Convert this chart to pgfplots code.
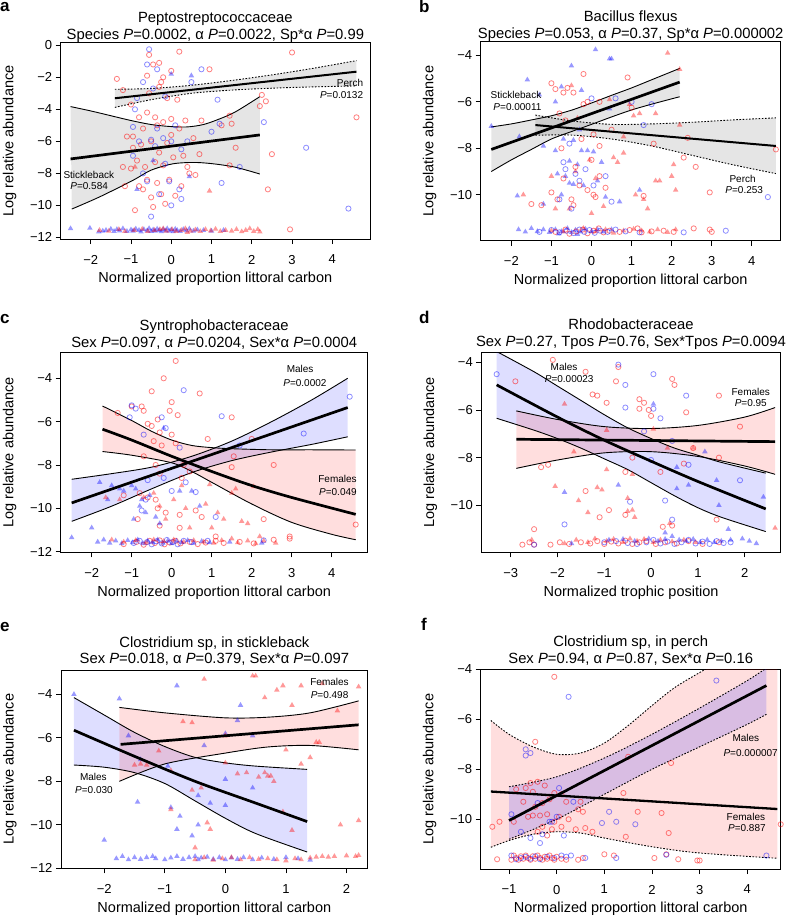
\documentclass[border=0pt]{standalone}
\usepackage{fontspec}
\setmainfont{Liberation Sans}
\usepackage{pgfplots}
\pgfplotsset{compat=1.18}
\usepgfplotslibrary{fillbetween}

\definecolor{pr}{RGB}{255,0,0}
\definecolor{pb}{RGB}{0,0,255}

\tikzset{note/.style={font=\fontsize{10}{12}\selectfont, inner sep=0pt}}

\pgfplotsset{
  panel/.style={
    scale only axis, set layers, clip mode=individual,
    tick align=outside, tick pos=left,
    axis line style={line width=0.8pt},
    major tick length=5pt,
    every tick/.style={line width=0.8pt, black},
    tick label style={font=\fontsize{13}{15}\selectfont},
    xticklabel style={yshift=-7.5pt},
    label style={font=\fontsize{14.5}{17}\selectfont},
    title style={font=\fontsize{14.8}{16.7}\selectfont, align=center,
      at={(0.5,1)}, anchor=south, inner sep=0pt},
    xlabel style={at={([yshift=-40pt]axis description cs:0.5,0)}, anchor=center},
    ylabel style={at={([xshift=-51pt]axis description cs:0,0.5)}, anchor=center},
    ylabel={Log relative abundance},
    xlabel={Normalized proportion littoral carbon},
  },
  rc/.style={only marks, mark=o, mark size=2.6pt,
    mark options={draw=pr, draw opacity=0.5, line width=0.8pt}},
  bc/.style={only marks, mark=o, mark size=2.6pt,
    mark options={draw=pb, draw opacity=0.45, line width=0.8pt}},
  rt/.style={only marks, mark=triangle*, mark size=3.2pt,
    mark options={fill=pr, draw=pr, draw opacity=0, fill opacity=0.4}},
  bt/.style={only marks, mark=triangle*, mark size=3.2pt,
    mark options={fill=pb, draw=pb, draw opacity=0, fill opacity=0.4}},
  fit/.style={black, line width=2.7pt, no marks},
  ci/.style={black, line width=0.9pt, no marks, smooth},
  cid/.style={black, line width=0.9pt, no marks, smooth, dash pattern=on 1.6pt off 1.6pt},
}

\begin{document}
\begin{tikzpicture}

% ---------------- a ----------------
\node[anchor=base west, font=\bfseries\fontsize{17}{17}\selectfont, inner sep=0pt] at (0pt,-11pt) {a};
\begin{axis}[panel, at={(60.7pt,-42.7pt)}, anchor=north west,
  width=309.3pt, height=196.3pt,
  xmin=-2.745, xmax=4.936, ymin=-12.1, ymax=0.16,
  xtick={-2,...,4}, xticklabels={−2,−1,0,1,2,3,4},
  ytick={-12,-10,...,0}, yticklabels={−12,−10,−8,−6,−4,−2,0},
  title style={yshift=-6pt},
  title={Peptostreptococcaceae\\Species \textit{P}=0.0002, α \textit{P}=0.0022, Sp*α \textit{P}=0.99}]
\addplot[ci, name path=su] coordinates {(-2.5,-3.83) (-2,-4.1) (-1.5,-4.4) (-1,-4.7) (-0.5,-4.95) (0,-5.08) (0.4,-5.1) (0.8,-4.95) (1.2,-4.6) (1.6,-4.15) (2.2,-3.21)};
\addplot[ci, name path=sl] coordinates {(-2.47,-10.23) (-1.77,-9.46) (-0.94,-8.42) (-0.5,-7.8) (0.05,-7.4) (0.6,-7.32) (1.1,-7.42) (1.6,-7.62) (2.2,-8.04)};
\addplot[fill=black, fill opacity=0.1, draw=none] fill between[of=su and sl];
\addplot[cid, name path=pu] coordinates {(-1.4,-2.75) (-0.5,-2.7) (0.5,-2.5) (1.5,-2.2) (2.5,-1.85) (3.5,-1.45) (4.6,-0.96)};
\addplot[cid, name path=pl] coordinates {(-1.4,-3.88) (-0.5,-3.4) (0.5,-3.0) (1.5,-2.8) (2.5,-2.68) (3.5,-2.6) (4.6,-2.54)};
\addplot[fill=black, fill opacity=0.1, draw=none] fill between[of=pu and pl];
\addplot[rc] coordinates {(-1.35,-2.1) (-1.2,-2.8) (-1.2,-7.6) (-1.15,-8.8) (-1.0,-3.7) (-0.95,-5.7) (-0.95,-6.4) (-0.9,-10.3) (-0.85,-7.2) (-0.8,-4.5) (-0.8,-8.8) (-0.75,-6.2) (-0.7,-9.0) (-0.7,-5.2) (-0.65,-7.6) (-0.6,-1.9) (-0.6,-4.2) (-0.6,-8.4) (-0.55,-0.6) (-0.55,-3.0) (-0.5,-6.0) (-0.5,-9.5) (-0.45,-10.1) (-0.45,-1.2) (-0.4,-4.5) (-0.4,-7.3) (-0.35,-5.0) (-0.35,-8.6) (-0.3,-1.1) (-0.3,-2.6) (-0.3,-6.7) (-0.25,-9.3) (-0.2,-4.8) (-0.2,-7.5) (-0.15,-9.9) (-0.1,-3.3) (-0.1,-6.1) (-0.05,-8.4) (0,-1.6) (0,-4.6) (0,-5.6) (0.05,-7.0) (0.1,-9.4) (0.15,-3.4) (0.2,-0.4) (0.2,-5.2) (0.25,-8.8) (0.3,-6.9) (0.35,-4.7) (0.4,-7.6) (0.55,-5.8) (0.6,-8.1) (0.7,-6.8) (0.75,-4.7) (0.95,-1.5) (1.25,-5.0) (1.45,-4.4) (1.5,-4.9) (1.45,-7.5) (1.6,-6.4) (2.2,-3.8) (2.25,-3.1) (2.35,-3.5) (2.5,-6.8) (2.4,-9.0) (3.0,-0.45) (4.6,-4.5) (-0.2,-2.0) (-1.1,-5.7) (0.45,-8.0) (-1.0,-7.7) (-0.25,-2.3) (2.95,-11.5)};
\addplot[bc] coordinates {(-0.55,-0.25) (-0.6,-1.2) (-0.35,-1.5) (0.75,-1.5) (-0.7,-2.3) (-0.45,-2.7) (-0.15,-3.2) (0.5,-2.3) (-0.85,-3.3) (-0.9,-4.0) (1.15,-3.4) (-0.95,-5.1) (-0.5,-5.9) (-0.2,-5.8) (-0.35,-5.2) (0.1,-5.0) (1.2,-4.9) (1.0,-5.4) (-0.8,-6.0) (-0.4,-6.3) (0.25,-6.5) (0.0,-6.0) (-0.7,-8.0) (-0.6,-8.5) (-0.3,-9.3) (-0.05,-8.5) (0.2,-9.0) (0.25,-9.6) (0.0,-10.0) (-0.5,-10.7) (1.25,-8.6) (1.7,-7.6) (2.3,-4.8) (3.35,-6.4) (4.4,-10.2) (-0.15,-7.4) (0.4,-6.0) (-0.95,-6.9)};
\addplot[bt] coordinates {(0,-1.8) (0.5,-1.9) (0.45,-8.2) (-0.85,-9.0) (-0.45,-7.2) (-2.5,-11.45) (-2.02,-11.42) (-1.8,-11.65) (-1.7,-11.6) (-1.62,-11.55) (-1.5,-11.48) (-1.42,-11.62) (-1.35,-11.5) (-1.28,-11.58) (-1.2,-11.45) (-1.1,-11.62) (-1.0,-11.52) (-0.95,-11.6) (-0.88,-11.47) (-0.8,-11.55) (-0.75,-11.65) (-0.68,-11.5) (-0.6,-11.58) (-0.55,-11.44) (-0.5,-11.62) (-0.45,-11.52) (-0.4,-11.6) (-0.35,-11.47) (-0.3,-11.56) (-0.25,-11.64) (-0.2,-11.5) (-0.15,-11.58) (-0.1,-11.45) (-0.05,-11.6) (0,-11.52) (0.05,-11.64) (0.1,-11.48) (0.15,-11.56) (0.22,-11.62) (0.3,-11.5) (0.38,-11.58) (0.45,-11.46) (0.55,-11.6) (0.65,-11.52) (0.8,-11.56) (1.0,-11.6) (1.3,-11.55)};
\addplot[rt] coordinates {(0.95,-9.1) (-0.9,-7.6) (-1.78,-11.55) (-1.55,-11.6) (-1.3,-11.5) (-1.15,-11.62) (-0.92,-11.55) (-0.72,-11.48) (-0.58,-11.62) (-0.42,-11.55) (-0.28,-11.5) (-0.12,-11.6) (0.02,-11.5) (0.12,-11.62) (0.25,-11.55) (0.35,-11.45) (0.48,-11.6) (0.6,-11.52) (0.72,-11.62) (0.85,-11.5) (0.98,-11.58) (1.1,-11.48) (1.22,-11.62) (1.35,-11.55) (1.5,-11.6) (1.62,-11.5) (1.75,-11.64) (1.85,-11.55) (1.95,-11.45) (2.05,-11.62) (2.15,-11.5) (2.2,-11.65) (-0.2,-11.45) (0.4,-11.68)};
\addplot[fit] coordinates {(-2.5,-7.1) (2.2,-5.6)};
\addplot[fit, line width=2pt] coordinates {(-1.4,-3.31) (4.6,-1.65)};
\node[note, anchor=east] at (axis cs:4.77,-2.35) {Perch};
\node[note, anchor=east] at (axis cs:4.77,-3.1) {\textit{P}=0.0132};
\node[note, anchor=west] at (axis cs:-2.68,-8.1) {Stickleback};
\node[note, anchor=west] at (axis cs:-2.51,-8.8) {\textit{P}=0.584};
\end{axis}

% ---------------- b ----------------
\node[anchor=base west, font=\bfseries\fontsize{17}{17}\selectfont, inner sep=0pt] at (419pt,-12pt) {b};
\begin{axis}[panel, at={(480.7pt,-41.7pt)}, anchor=north west,
  width=300pt, height=199pt,
  xmin=-2.764, xmax=4.72, ymin=-11.98, ymax=-3.41,
  xtick={-2,...,4}, xticklabels={−2,−1,0,1,2,3,4},
  ytick={-10,-8,-6,-4}, yticklabels={−10,−8,−6,−4},
  title style={yshift=-6pt},
  title={Bacillus flexus\\Species \textit{P}=0.053, α \textit{P}=0.37, Sp*α \textit{P}=0.000002}]
\addplot[ci, name path=su] coordinates {(-2.5,-7.08) (-2,-6.95) (-1.5,-6.78) (-1,-6.6) (-0.5,-6.36) (0,-6.05) (0.5,-5.72) (1,-5.4) (1.5,-5.05) (2.2,-4.56)};
\addplot[ci, name path=sl] coordinates {(-2.5,-9.0) (-2,-8.5) (-1.5,-8.05) (-1,-7.6) (-0.5,-7.28) (0,-6.97) (0.5,-6.65) (1,-6.35) (1.5,-6.1) (2.2,-5.78)};
\addplot[fill=black, fill opacity=0.1, draw=none] fill between[of=su and sl];
\addplot[cid, name path=pu] coordinates {(-1.4,-6.57) (-0.5,-6.82) (0.5,-6.97) (1.5,-6.95) (2.5,-6.88) (3.5,-6.78) (4.6,-6.69)};
\addplot[cid, name path=pl] coordinates {(-1.4,-7.44) (-0.5,-7.43) (0.5,-7.6) (1.5,-7.9) (2.5,-8.3) (3.5,-8.7) (4.6,-9.09)};
\addplot[fill=black, fill opacity=0.1, draw=none] fill between[of=pu and pl];
\addplot[bt] coordinates {(0.1,-3.75) (0.45,-4.15) (0.5,-4.15) (-0.5,-4.45) (-1.6,-5.05) (-0.75,-5.35) (-1.3,-5.7) (-0.25,-5.5) (-2.5,-7.05) (-1.8,-7.5) (-1.2,-7.9) (-0.9,-8.1) (-0.55,-8.55) (-0.65,-9.2) (-0.85,-9.1) (-0.25,-8.1) (-0.1,-8.1) (0.05,-8.15) (0.25,-8.6) (-0.7,-7.6) (-0.45,-7.65) (-0.35,-8.7) (-0.45,-9.55) (-0.55,-9.5) (0.7,-10.3) (1.2,-9.8) (-1.85,-10.05) (-1.2,-10.4) (-0.75,-10.0) (0.35,-10.1) (-0.3,-7.2) (0.45,-6.3) (-0.9,-6.0) (0.15,-9.4) (-0.2,-9.6) (-1.82,-11.5) (-1.65,-11.6) (-1.5,-11.45) (-1.35,-11.58) (-1.2,-11.5) (-1.05,-11.62) (-0.9,-11.5) (-0.75,-11.58) (-0.6,-11.45) (-0.5,-11.62) (-0.4,-11.52) (-0.28,-11.6) (-0.15,-11.48) (0,-11.58) (0.15,-11.5) (0.3,-11.6) (0.5,-11.5) (-0.82,-11.68) (-0.35,-11.7)};
\addplot[rt] coordinates {(1.9,-3.9) (2.2,-4.6) (-0.5,-5.3) (0.45,-5.9) (0.95,-6.1) (1.2,-6.5) (1.05,-6.6) (1.6,-6.5) (2.2,-7.0) (0.8,-7.5) (0.8,-8.2) (0.55,-8.4) (0.65,-8.6) (2.05,-8.7) (2.0,-9.2) (1.6,-9.4) (1.7,-9.4) (2.1,-9.8) (1.1,-10.0) (1.3,-10.2) (1.4,-10.6) (0.0,-10.8) (-0.55,-10.6) (-0.9,-10.6) (-1.7,-10.0) (-1.0,-9.2) (0.1,-9.3) (-0.4,-9.0) (0.3,-10.5) (-0.35,-6.7) (-0.05,-8.5) (-1.0,-11.55) (-0.7,-11.6) (-0.2,-11.45) (0.1,-11.58) (0.35,-11.5) (0.55,-11.65) (0.8,-11.55) (1.05,-11.48) (1.25,-11.55) (1.45,-11.6) (1.65,-11.5) (1.9,-11.62) (2.1,-11.5)};
\addplot[rc] coordinates {(-1.0,-5.2) (-0.6,-5.4) (-0.7,-5.6) (-0.2,-6.1) (-0.1,-6.0) (0.2,-6.0) (0.9,-4.95) (1.0,-6.25) (-0.2,-4.8) (-0.9,-5.45) (-0.45,-5.6) (-0.8,-6.5) (-0.65,-6.8) (0.0,-8.5) (0.05,-7.4) (-0.75,-8.0) (-0.25,-7.6) (0.2,-7.9) (-1.5,-10.4) (-1.25,-10.45) (-1.0,-9.9) (-0.7,-9.3) (-0.5,-10.2) (-0.3,-9.6) (-0.1,-9.8) (0.2,-9.2) (0.35,-9.7) (1.55,-7.8) (2.3,-8.4) (2.4,-7.55) (2.6,-8.8) (2.95,-9.9) (1.3,-10.05) (4.6,-8.05) (0.05,-10.0) (-0.4,-8.8) (-0.45,-10.45) (0.1,-10.1) (-0.85,-10.2) (0.5,-7.2) (-0.9,-11.6) (-0.65,-11.5) (-0.55,-11.68) (-0.38,-11.58) (-0.22,-11.5) (-0.1,-11.66) (0.05,-11.55) (0.18,-11.45) (0.3,-11.62) (0.45,-11.55) (0.7,-11.6) (0.95,-11.52) (1.15,-11.45) (1.25,-11.62) (1.5,-11.58) (1.8,-11.55) (2.05,-11.6) (2.55,-11.45) (2.95,-11.5) (3.0,-11.6)};
\addplot[bc] coordinates {(0.0,-5.85) (0.6,-5.85) (1.0,-6.0) (1.5,-6.1) (1.3,-7.0) (-0.55,-7.8) (-0.7,-8.6) (-0.15,-8.9) (-0.3,-9.4) (0.05,-9.6) (-0.5,-10.6) (0.5,-10.3) (-0.8,-10.2) (0.35,-9.2) (4.4,-10.1) (-0.4,-9.1) (-0.65,-8.9) (-1.3,-11.6) (-1.0,-11.52) (-0.8,-11.62) (-0.62,-11.55) (-0.45,-11.65) (-0.3,-11.5) (-0.18,-11.6) (-0.05,-11.52) (0.08,-11.64) (0.22,-11.55) (0.4,-11.6) (0.6,-11.5) (0.85,-11.58) (1.2,-11.62) (2.3,-11.62) (3.35,-11.55)};
\addplot[fit] coordinates {(-2.5,-8.05) (2.2,-5.15)};
\addplot[fit, line width=2pt] coordinates {(-1.4,-7.0) (4.6,-7.9)};
\node[note, anchor=west] at (axis cs:-2.52,-5.71) {Stickleback};
\node[note, anchor=west] at (axis cs:-2.45,-6.24) {\textit{P}=0.00011};
\node[note] at (axis cs:3.77,-9.33) {Perch};
\node[note] at (axis cs:3.81,-9.82) {\textit{P}=0.253};
\end{axis}

% ---------------- c ----------------
\node[anchor=base west, font=\bfseries\fontsize{17}{17}\selectfont, inner sep=0pt] at (0pt,-323.5pt) {c};
\begin{axis}[panel, at={(60.7pt,-352.7pt)}, anchor=north west,
  width=307pt, height=199.6pt,
  xmin=-2.775, xmax=4.9, ymin=-12.03, ymax=-2.82,
  xtick={-2,...,4}, xticklabels={−2,−1,0,1,2,3,4},
  ytick={-12,-10,...,-4}, yticklabels={−12,−10,−8,−6,−4},
  title style={yshift=-2.7pt},
  title={Syntrophobacteraceae\\Sex \textit{P}=0.097, α \textit{P}=0.0204, Sex*α \textit{P}=0.0004}]
\addplot[ci, name path=mu] coordinates {(-2.5,-8.66) (-1.5,-8.4) (-0.5,-8.1) (0.5,-7.6) (1.5,-6.9) (2.5,-6.0) (3.5,-5.0) (4.4,-4.0)};
\addplot[ci, name path=ml] coordinates {(-2.5,-10.6) (-1.5,-9.9) (-0.5,-9.1) (0.5,-8.35) (1.5,-7.8) (2.5,-7.4) (3.5,-7.05) (4.4,-6.7)};
\addplot[fill=pb, fill opacity=0.13, draw=none] fill between[of=mu and ml];
\addplot[ci, name path=fu] coordinates {(-1.73,-5.28) (-1,-5.95) (-0.5,-6.45) (0,-6.85) (0.5,-7.1) (1,-7.2) (1.5,-7.25) (2.5,-7.3) (3.5,-7.3) (4.6,-7.31)};
\addplot[ci, name path=fl] coordinates {(-1.73,-7.38) (-1,-7.55) (0,-7.9) (0.5,-8.3) (1,-8.8) (2,-9.8) (3,-10.65) (4,-11.2) (4.6,-11.45)};
\addplot[fill=pr, fill opacity=0.13, draw=none] fill between[of=fu and fl];
\addplot[rc] coordinates {(-1.35,-5.6) (-1.0,-5.3) (-0.75,-5.3) (-0.7,-5.5) (-0.5,-4.6) (-0.2,-4.0) (0.1,-3.2) (0.0,-5.1) (-0.05,-5.5) (0.7,-4.7) (0.15,-5.7) (-0.6,-6.1) (-0.5,-6.2) (-0.35,-5.9) (-0.3,-6.5) (0.0,-6.6) (-0.45,-6.9) (-0.25,-7.1) (0.1,-7.0) (0.9,-6.8) (1.5,-5.8) (1.55,-7.6) (2.0,-6.8) (2.55,-8.0) (1.5,-8.1) (-0.3,-8.4) (-0.4,-8.0) (0.3,-8.0) (0.45,-8.3) (-0.8,-9.3) (-0.6,-9.5) (-0.4,-9.6) (-0.35,-10.0) (-0.15,-10.2) (0.2,-10.3) (0.6,-10.1) (0.75,-10.4) (-0.85,-10.5) (-0.3,-10.8) (0.2,-10.9) (1.1,-11.3) (2.3,-10.5) (4.6,-10.75) (2.95,-11.3) (-1.2,-9.4) (0.25,-8.6) (-0.7,-7.6) (-1.2,-11.65) (-0.88,-11.55) (-0.7,-11.68) (-0.55,-11.5) (-0.42,-11.6) (-0.3,-11.48) (-0.18,-11.66) (-0.05,-11.58) (0.1,-11.5) (0.22,-11.62) (0.45,-11.55) (0.65,-11.65) (0.85,-11.58) (1.1,-11.5) (1.3,-11.6) (1.7,-11.55) (2.05,-11.62) (2.55,-11.45) (2.95,-11.4)};
\addplot[bc] coordinates {(-1.0,-5.25) (-0.9,-5.4) (-1.05,-5.8) (-0.25,-5.8) (0.3,-4.55) (-0.15,-6.3) (-0.7,-6.6) (1.25,-5.75) (0.2,-7.2) (1.7,-7.1) (-0.6,-8.7) (-0.2,-8.6) (-0.75,-10.1) (0.0,-9.2) (0.6,-9.25) (1.1,-10.4) (3.3,-6.55) (4.45,-4.85) (-0.65,-9.6) (0.35,-8.8) (-0.95,-11.6) (-0.8,-11.5) (-0.62,-11.56) (-0.5,-11.66) (-0.38,-11.52) (-0.25,-11.62) (-0.12,-11.46) (0.02,-11.55) (0.15,-11.66) (0.3,-11.5) (0.5,-11.56) (0.9,-11.5) (2.3,-11.48)};
\addplot[bt] coordinates {(-2.5,-11.35) (-2.0,-10.9) (-1.8,-8.8) (-1.5,-8.95) (-1.3,-9.1) (-1.2,-9.2) (-1.0,-8.95) (-0.9,-9.1) (-0.8,-9.9) (-0.75,-9.6) (-0.55,-9.4) (-0.4,-10.4) (-0.3,-10.7) (-0.2,-6.3) (0.2,-9.2) (0.5,-9.2) (0.7,-9.9) (-1.6,-9.6) (-0.95,-10.5) (-0.65,-10.2) (-1.85,-11.55) (-1.7,-11.45) (-1.55,-11.6) (-1.4,-11.5) (-1.25,-11.62) (-1.1,-11.48) (-0.98,-11.58) (-0.85,-11.45) (-0.72,-11.62) (-0.6,-11.5) (-0.48,-11.58) (-0.35,-11.45) (-0.22,-11.6) (-0.1,-11.5) (0.0,-11.62) (0.12,-11.5) (0.25,-11.58) (0.4,-11.48) (0.55,-11.6) (0.75,-11.52) (0.95,-11.58) (1.45,-11.55) (2.25,-11.6)};
\addplot[rt] coordinates {(-1.65,-9.5) (-1.3,-9.6) (-0.7,-9.5) (-0.45,-9.3) (-0.3,-9.9) (0.05,-9.6) (0.25,-8.95) (0.35,-10.0) (0.85,-9.8) (0.95,-8.9) (1.15,-10.2) (1.3,-10.5) (1.5,-9.3) (1.6,-9.1) (1.75,-10.6) (1.9,-10.7) (2.05,-9.0) (2.2,-11.3) (-0.15,-10.5) (0.45,-10.9) (1.0,-10.9) (-1.5,-11.45) (-1.2,-11.55) (-0.9,-11.48) (-0.65,-11.6) (-0.45,-11.45) (-0.2,-11.52) (0.05,-11.45) (0.3,-11.55) (0.55,-11.48) (0.8,-11.55) (1.05,-11.6) (1.25,-11.48) (1.5,-11.4) (1.65,-11.58) (1.9,-11.5) (2.1,-11.62) (2.3,-11.5) (2.6,-11.6)};
\addplot[fit] coordinates {(-2.5,-9.75) (4.4,-5.35)};
\addplot[fit, smooth] coordinates {(-1.73,-6.35) (-1,-6.85) (0,-7.6) (1,-8.3) (2,-8.95) (3,-9.5) (4.6,-10.28)};
\node[note] at (axis cs:3.21,-3.57) {Males};
\node[note] at (axis cs:3.33,-4.23) {\textit{P}=0.0002};
\node[note, anchor=east] at (axis cs:4.63,-8.66) {Females};
\node[note, anchor=east] at (axis cs:4.63,-9.23) {\textit{P}=0.049};
\end{axis}

% ---------------- d ----------------
\node[anchor=base west, font=\bfseries\fontsize{17}{17}\selectfont, inner sep=0pt] at (419pt,-323.5pt) {d};
\begin{axis}[panel, at={(481.3pt,-352.7pt)}, anchor=north west,
  width=299.4pt, height=199.6pt,
  xmin=-3.628, xmax=2.77, ymin=-11.97, ymax=-3.6,
  xtick={-3,...,2}, xticklabels={−3,−2,−1,0,1,2},
  ytick={-10,-8,-6,-4}, yticklabels={−10,−8,−6,−4},
  xlabel={Normalized trophic position},
  title style={yshift=-2.7pt},
  title={Rhodobacteraceae\\Sex \textit{P}=0.27, Tpos \textit{P}=0.76, Sex*Tpos \textit{P}=0.0094}]
\addplot[ci, name path=mu] coordinates {(-3.3,-3.55) (-2.5,-4.4) (-2,-5.0) (-1.5,-5.6) (-1,-6.2) (-0.5,-6.75) (0,-7.2) (0.5,-7.6) (1,-7.9) (1.5,-8.2) (2.45,-8.65)};
\addplot[ci, name path=ml] coordinates {(-3.3,-6.35) (-2.5,-6.85) (-2,-7.2) (-1.5,-7.6) (-1,-8.05) (-0.5,-8.5) (0,-9.05) (0.5,-9.6) (1,-10.1) (1.5,-10.5) (2.45,-11.1)};
\addplot[fill=pb, fill opacity=0.13, draw=none] fill between[of=mu and ml];
\addplot[ci, name path=fu] coordinates {(-2.88,-6.04) (-2,-6.4) (-1,-6.7) (0,-6.78) (1,-6.65) (2,-6.3) (2.65,-5.9)};
\addplot[ci, name path=fl] coordinates {(-2.88,-8.45) (-2,-8.1) (-1,-7.8) (0,-7.75) (1,-7.95) (2,-8.35) (2.65,-8.7)};
\addplot[fill=pr, fill opacity=0.13, draw=none] fill between[of=fu and fl];
\addplot[rc] coordinates {(-2.1,-3.9) (-2.9,-4.8) (-2.35,-8.4) (-2.2,-8.3) (-1.4,-4.4) (-1.25,-5.35) (-1.15,-5.4) (-0.95,-5.7) (-0.75,-4.8) (-0.7,-4.2) (-0.25,-5.55) (-0.15,-5.7) (-0.25,-5.95) (0.0,-6.25) (-0.05,-6.0) (0.45,-4.7) (0.5,-4.95) (0.75,-6.1) (1.45,-5.4) (1.9,-6.7) (1.45,-8.0) (0.2,-8.6) (-0.55,-8.6) (-0.9,-10.2) (-1.4,-9.4) (-1.1,-10.5) (-0.55,-10.4) (0.25,-10.9) (0.45,-10.85) (1.4,-10.6) (-2.5,-11.0) (0.7,-8.25) (-0.4,-8.0) (0.9,-7.6) (-2.75,-11.65) (-2.6,-11.55) (-2.5,-11.65) (-2.15,-11.65) (-1.95,-11.55) (-1.75,-11.62) (-1.5,-11.55) (-1.3,-11.6) (-1.15,-11.5) (-1.0,-11.62) (-0.85,-11.52) (-0.7,-11.6) (-0.55,-11.48) (-0.4,-11.62) (-0.25,-11.55) (-0.1,-11.5) (0.1,-11.62) (0.3,-11.55) (0.55,-11.6) (0.8,-11.5) (1.1,-11.62) (1.45,-11.55)};
\addplot[bc] coordinates {(-3.3,-4.5) (-0.7,-4.1) (-0.55,-4.95) (0.05,-4.5) (-0.55,-5.9) (0.05,-5.95) (0.2,-6.35) (0.75,-5.4) (-0.15,-6.9) (0.45,-7.3) (0.8,-8.3) (1.9,-8.95) (0.3,-9.8) (-0.45,-9.85) (0.45,-10.6) (-1.85,-10.8) (0.0,-8.1) (-2.5,-11.65) (-1.0,-11.55) (-0.75,-11.5) (-0.5,-11.58) (-0.3,-11.62) (-0.1,-11.55) (0.05,-11.45) (0.2,-11.6) (0.35,-11.52) (0.5,-11.62) (0.65,-11.55) (0.8,-11.45) (0.95,-11.6) (1.1,-11.52) (1.25,-11.62) (1.4,-11.5) (1.55,-11.58) (1.7,-11.55)};
\addplot[rt] coordinates {(-1.85,-5.75) (-0.95,-6.85) (-1.65,-7.75) (-2.05,-9.2) (-1.55,-9.8) (-0.95,-8.5) (-1.15,-9.25) (-1.05,-9.35) (-0.4,-8.7) (-0.5,-9.7) (-0.5,-10.25) (-0.4,-10.2) (-0.35,-10.5) (-1.35,-10.3) (0.05,-6.8) (0.35,-7.6) (0.9,-7.6) (2.65,-10.95) (0.4,-10.75) (-2.55,-11.45) (-1.85,-11.6) (-1.6,-11.45) (-1.35,-11.55) (-1.2,-11.4) (-0.95,-11.5) (-0.8,-11.42) (-0.6,-11.55) (-0.45,-11.4) (-0.3,-11.5) (-0.15,-11.42) (0.05,-11.55) (0.2,-11.45) (0.45,-11.52) (0.7,-11.45) (0.95,-11.55)};
\addplot[bt] coordinates {(0.05,-5.75) (1.15,-7.75) (-0.7,-9.15) (-1.85,-9.45) (0.55,-9.3) (0.8,-9.15) (1.4,-8.95) (1.45,-10.0) (2.4,-9.65) (1.65,-11.0) (0.55,-8.4) (0.3,-11.15) (-1.7,-11.6) (-0.9,-11.45) (-0.6,-11.42) (-0.35,-11.5) (-0.05,-11.4) (0.15,-11.5) (0.3,-11.42) (0.45,-11.3) (0.6,-11.45) (0.75,-11.5) (0.9,-11.42) (1.05,-11.55) (1.2,-11.45) (1.35,-11.55) (1.5,-11.5) (1.7,-11.45) (1.95,-11.4) (2.1,-11.5) (2.25,-11.6)};
\addplot[fit, smooth] coordinates {(-3.3,-4.95) (-2,-6.3) (-1,-7.27) (0,-8.15) (1,-9.0) (2.45,-10.15)};
\addplot[fit] coordinates {(-2.88,-7.23) (2.65,-7.33)};
\node[note] at (axis cs:-1.86,-4.18) {Males};
\node[note] at (axis cs:-1.75,-4.7) {\textit{P}=0.00023};
\node[note] at (axis cs:2.13,-5.26) {Females};
\node[note] at (axis cs:2.13,-5.72) {\textit{P}=0.95};
\end{axis}

% ---------------- e ----------------
\node[anchor=base west, font=\bfseries\fontsize{17}{17}\selectfont, inner sep=0pt] at (0pt,-631.5pt) {e};
\begin{axis}[panel, at={(61pt,-670pt)}, anchor=north west,
  width=306.7pt, height=198.3pt,
  xmin=-2.714, xmax=2.35, ymin=-12, ymax=-2.88,
  xtick={-2,...,2}, xticklabels={−2,−1,0,1,2},
  ytick={-12,-10,...,-4}, yticklabels={−12,−10,−8,−6,−4},
  title style={yshift=-2pt},
  title={Clostridium sp, in stickleback\\Sex \textit{P}=0.018, α \textit{P}=0.379, Sex*α \textit{P}=0.097}]
\addplot[ci, name path=mu] coordinates {(-2.5,-4.15) (-2,-4.95) (-1.5,-5.75) (-1,-6.4) (-0.5,-6.9) (0,-7.15) (0.5,-7.3) (1.35,-7.45)};
\addplot[ci, name path=ml] coordinates {(-2.5,-7.25) (-2,-7.35) (-1.5,-7.6) (-1,-8.1) (-0.5,-8.9) (0,-9.7) (0.5,-10.4) (1.35,-11.25)};
\addplot[fill=pb, fill opacity=0.13, draw=none] fill between[of=mu and ml];
\addplot[ci, name path=fu] coordinates {(-1.75,-4.6) (-1,-4.85) (0,-5.08) (0.7,-5.05) (1.4,-4.85) (2.2,-4.3)};
\addplot[ci, name path=fl] coordinates {(-1.75,-8.0) (-1,-7.2) (0,-6.7) (0.7,-6.42) (1.4,-6.35) (2.2,-6.55)};
\addplot[fill=pr, fill opacity=0.13, draw=none] fill between[of=fu and fl];
\addplot[bt] coordinates {(-2.5,-4.0) (-1.75,-4.2) (-0.8,-3.6) (0.25,-4.5) (0.2,-5.2) (-1.6,-5.9) (-0.35,-6.35) (0.0,-5.8) (0.45,-5.9) (-1.4,-7.0) (-0.95,-7.3) (0.0,-7.9) (0.45,-8.3) (-0.45,-8.65) (-0.25,-9.0) (0.0,-9.1) (-0.9,-9.2) (-1.45,-8.95) (-2.0,-10.7) (-0.75,-9.6) (-0.8,-10.2) (-0.45,-10.0) (-0.55,-10.5) (-1.8,-11.55) (-1.7,-11.45) (-1.6,-11.6) (-1.5,-11.5) (-1.4,-11.58) (-1.3,-11.5) (-1.2,-11.45) (-1.15,-11.55) (-1.0,-11.6) (-0.9,-11.52) (-0.8,-11.45) (-0.7,-11.58) (-0.6,-11.5) (-0.5,-11.45) (-0.45,-11.6) (-0.4,-11.52) (-0.3,-11.48) (-0.2,-11.58) (-0.1,-11.5) (0.0,-11.6) (0.1,-11.52) (0.2,-11.58) (0.3,-11.5) (0.45,-11.6) (0.6,-11.52) (0.8,-11.58) (1.0,-11.5) (1.2,-11.55) (1.4,-11.62)};
\addplot[rt] coordinates {(-0.35,-3.3) (0.45,-3.15) (0.5,-3.15) (0.65,-4.15) (0.85,-3.8) (0.95,-3.6) (1.1,-4.5) (1.25,-3.6) (1.6,-3.5) (2.2,-3.65) (1.85,-4.75) (-0.7,-5.25) (-0.55,-5.3) (0.0,-5.9) (1.0,-6.55) (1.55,-6.2) (1.5,-6.2) (-1.1,-6.6) (-1.4,-7.2) (-1.3,-7.25) (-1.5,-7.25) (-0.9,-7.5) (-0.55,-8.4) (0.0,-7.15) (0.2,-7.65) (0.35,-7.6) (0.65,-7.6) (0.7,-7.75) (0.75,-7.75) (0.8,-8.0) (0.55,-7.8) (1.25,-7.2) (1.4,-6.9) (0.95,-9.4) (-0.3,-9.9) (-0.25,-10.2) (-0.9,-9.3) (1.1,-10.25) (1.9,-10.0) (2.2,-9.8) (-0.5,-11.05) (-0.4,-8.3) (-0.5,-11.6) (-0.35,-11.5) (-0.2,-11.62) (-0.05,-11.55) (0.1,-11.5) (0.25,-11.6) (0.4,-11.5) (0.55,-11.58) (0.7,-11.55) (0.85,-11.6) (1.0,-11.65) (1.15,-11.55) (1.25,-11.6) (1.4,-11.52) (1.5,-11.48) (1.6,-11.45) (1.7,-11.48) (1.8,-11.45) (2.0,-11.42) (2.15,-11.45) (2.2,-11.4)};
\addplot[fit, smooth] coordinates {(-2.5,-5.65) (-1.5,-6.85) (-0.5,-8.0) (0.5,-9.0) (1.35,-9.85)};
\addplot[fit] coordinates {(-1.73,-6.3) (2.2,-5.4)};
\node[note] at (axis cs:1.72,-3.45) {Females};
\node[note] at (axis cs:1.72,-4.03) {\textit{P}=0.498};
\node[note] at (axis cs:-2.18,-7.82) {Males};
\node[note] at (axis cs:-2.17,-8.4) {\textit{P}=0.030};
\end{axis}

% ---------------- f ----------------
\node[anchor=base west, font=\bfseries\fontsize{17}{17}\selectfont, inner sep=0pt] at (421pt,-630.5pt) {f};
\begin{axis}[panel, at={(480.7pt,-669.3pt)}, anchor=north west,
  width=300pt, height=199.7pt,
  xmin=-1.594, xmax=4.70, ymin=-11.99, ymax=-4,
  xtick={-1,...,4}, xticklabels={−1,0,1,2,3,4},
  ytick={-10,-8,-6,-4}, yticklabels={−10,−8,−6,−4},
  title style={yshift=-2pt},
  title={Clostridium sp, in perch\\Sex \textit{P}=0.94, α \textit{P}=0.87, Sex*α \textit{P}=0.16}]
\addplot[cid, name path=fu] coordinates {(-1.38,-6.05) (-1,-6.6) (-0.5,-7.1) (0,-7.4) (0.5,-7.35) (1,-6.95) (1.5,-6.25) (2,-5.45) (2.5,-4.7) (3.2,-3.9) (4,-2.9) (4.63,-2.1)};
\addplot[cid, name path=fl] coordinates {(-1.38,-11.12) (-1,-10.85) (-0.5,-10.6) (0,-10.5) (0.5,-10.55) (1,-10.75) (2,-11.1) (3,-11.35) (4.63,-11.56)};
\addplot[fill=pr, fill opacity=0.13, draw=none] fill between[of=fu and fl];
\addplot[cid, name path=mu] coordinates {(-1,-8.7) (0,-8.3) (1,-7.55) (2,-6.6) (3,-5.55) (4,-4.45) (4.4,-3.95)};
\addplot[cid, name path=ml] coordinates {(-1,-10.8) (0,-10.0) (1,-9.0) (2,-8.0) (3,-7.1) (4,-6.2) (4.4,-5.8)};
\addplot[fill=pb, fill opacity=0.15, draw=none] fill between[of=mu and ml];
\addplot[rc] coordinates {(-0.05,-4.3) (-0.45,-6.9) (-0.65,-8.75) (-0.55,-8.55) (-0.4,-8.5) (-0.25,-8.65) (-0.85,-8.8) (-0.5,-8.9) (-0.05,-8.95) (0.1,-9.0) (-0.7,-9.3) (-0.45,-9.5) (-0.3,-9.35) (-0.15,-9.2) (0.2,-9.3) (-0.9,-10.1) (-0.6,-9.9) (-0.5,-9.85) (-0.35,-9.85) (-0.2,-9.8) (-0.05,-10.1) (0.05,-9.9) (0.25,-10.0) (-0.3,-10.3) (-0.4,-10.5) (-0.1,-10.4) (0.1,-10.3) (0.45,-9.6) (0.5,-9.3) (0.55,-9.7) (0.75,-10.5) (0.4,-10.4) (1.4,-8.95) (1.5,-7.5) (1.7,-9.7) (2.2,-9.75) (2.4,-7.75) (2.35,-10.55) (1.45,-10.7) (-1.2,-10.1) (-1.35,-10.3) (4.7,-10.2) (-0.2,-10.65) (0.6,-10.35) (-1.25,-11.6) (-0.95,-11.62) (-0.9,-11.45) (-0.85,-11.55) (-0.8,-11.62) (-0.75,-11.48) (-0.7,-11.58) (-0.65,-11.45) (-0.6,-11.55) (-0.55,-11.62) (-0.5,-11.48) (-0.45,-11.58) (-0.4,-11.45) (-0.35,-11.55) (-0.3,-11.62) (-0.25,-11.5) (-0.2,-11.58) (-0.15,-11.45) (-0.1,-11.55) (-0.05,-11.62) (0.0,-11.5) (0.1,-11.58) (0.2,-11.62) (0.45,-11.62) (0.55,-11.55) (1.0,-11.4) (1.2,-11.45) (2.05,-11.55) (2.3,-11.4) (2.55,-11.6) (2.95,-11.65) (3.0,-11.65)};
\addplot[bc] coordinates {(0.25,-5.1) (-0.65,-7.2) (-0.55,-7.35) (-0.65,-7.45) (0.05,-8.75) (-0.4,-9.35) (-0.95,-9.8) (-0.15,-10.1) (0.0,-9.9) (-0.3,-10.6) (-0.75,-10.5) (-0.55,-10.75) (-0.35,-10.95) (0.15,-10.65) (1.1,-9.7) (1.25,-10.1) (0.95,-10.15) (1.65,-10.2) (3.35,-4.45) (0.35,-9.3) (-0.1,-10.1) (-0.95,-11.45) (-0.85,-11.6) (-0.75,-11.55) (-0.65,-11.5) (-0.55,-11.58) (-0.45,-11.48) (-0.35,-11.6) (-0.2,-11.5) (-0.05,-11.55) (0.1,-11.45) (0.2,-11.5) (0.3,-11.45) (0.6,-11.55) (1.25,-11.55) (2.3,-11.42) (4.4,-11.45)};
\addplot[fit] coordinates {(-1,-10.05) (4.4,-4.65)};
\addplot[fit, line width=2.3pt] coordinates {(-1.38,-8.89) (4.63,-9.59)};
\node[note] at (axis cs:3.97,-6.76) {Males};
\node[note] at (axis cs:4.07,-7.36) {\textit{P}=0.000007};
\node[note] at (axis cs:3.97,-9.89) {Females};
\node[note] at (axis cs:3.99,-10.36) {\textit{P}=0.887};
\end{axis}

\pgfresetboundingbox
\path[use as bounding box] (0,0) rectangle (788pt,-916pt);
\end{tikzpicture}
\end{document}
